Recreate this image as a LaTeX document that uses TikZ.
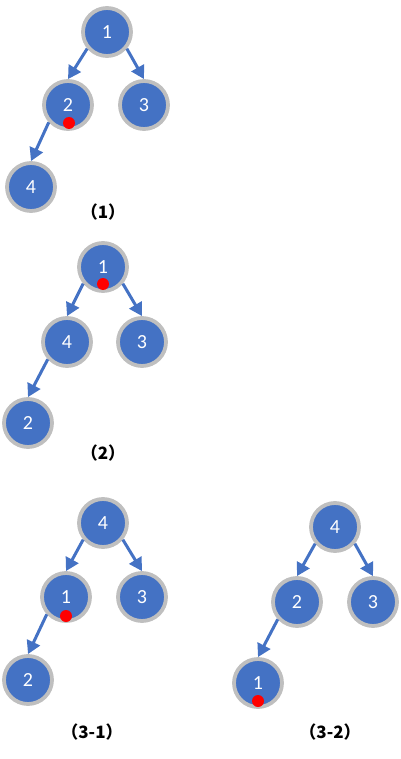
\documentclass[tikz,border=0pt]{standalone}
\usepackage{fontspec}
\setsansfont{Carlito}
\newfontfamily\cjk{Noto Sans CJK SC}
\usetikzlibrary{arrows.meta}
\definecolor{nodeblue}{HTML}{4472C4}
\definecolor{ringgray}{HTML}{BFBFBF}
\definecolor{dotred}{HTML}{FF0000}

\begin{document}
\begin{tikzpicture}[
  x=1pt,y=-1pt,font=\sffamily,
  heapnode/.style={circle,fill=nodeblue,draw=ringgray,line width=3.8pt,minimum size=48pt,inner sep=0pt,text=white,font=\sffamily\fontsize{20}{22}\selectfont},
  heaparrow/.style={-{Triangle[length=13pt,width=14pt]},line width=3pt,draw=nodeblue},
  cursor/.style={circle,fill=dotred,minimum size=12pt,inner sep=0pt},
  caption/.style={font=\cjk\bfseries\fontsize{17}{19}\selectfont,text=black}
]
\useasboundingbox (0,0) rectangle (400,759);

% (1)
\node[heapnode] (a1) at (107,32) {1};
\node[heapnode] (a2) at (68,105) {2};
\node[heapnode] (a3) at (144,105) {3};
\node[heapnode] (a4) at (31,187) {4};
\draw[heaparrow] (a1.220) -- (a2.north);
\draw[heaparrow] (a1.320) -- (a3.north);
\draw[heaparrow] (a2.222) -- (a4.north);
\node[cursor] (ca) at (69,123) {};
\node[caption] (la) at (103,212) {（1）};

% (2)
\node[heapnode] (b1) at (103,267) {1};
\node[heapnode] (b4) at (67,342) {4};
\node[heapnode] (b3) at (142,342) {3};
\node[heapnode] (b2) at (28,423) {2};
\draw[heaparrow] (b1.220) -- (b4.north);
\draw[heaparrow] (b1.320) -- (b3.north);
\draw[heaparrow] (b4.222) -- (b2.north);
\node[cursor] (cb) at (103,284) {};
\node[caption] (lb) at (103,453) {（2）};

% (3-1)
\node[heapnode] (c4) at (103,523) {4};
\node[heapnode] (c1) at (66,597) {1};
\node[heapnode] (c3) at (142,597) {3};
\node[heapnode] (c2) at (28,680) {2};
\draw[heaparrow] (c4.220) -- (c1.north);
\draw[heaparrow] (c4.320) -- (c3.north);
\draw[heaparrow] (c1.222) -- (c2.north);
\node[cursor] (cc) at (66,616) {};
\node[caption] (lc) at (92,732) {（3-1）};

% (3-2)
\node[heapnode] (d4) at (335,527) {4};
\node[heapnode] (d2) at (297,602) {2};
\node[heapnode] (d3) at (373,602) {3};
\node[heapnode] (d1) at (258,683) {1};
\draw[heaparrow] (d4.220) -- (d2.north);
\draw[heaparrow] (d4.320) -- (d3.north);
\draw[heaparrow] (d2.222) -- (d1.north);
\node[cursor] (cd) at (258,701) {};
\node[caption] (ld) at (330,732) {（3-2）};
\end{tikzpicture}
\end{document}
